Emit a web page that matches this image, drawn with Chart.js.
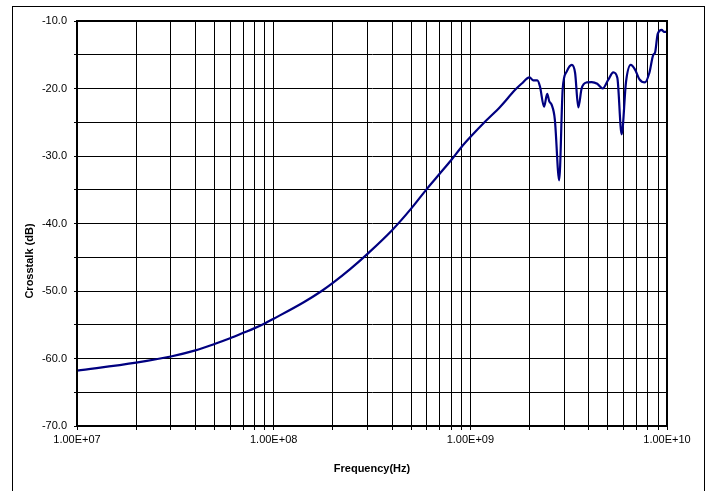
<!DOCTYPE html>
<html>
<head>
<meta charset="utf-8">
<script src="https://cdn.jsdelivr.net/npm/chart.js@4/dist/chart.umd.min.js"></script>
<style>
  body { margin: 0; background: #fff; }
  #wrap { width: 710px; height: 491px; position: relative; }
</style>
</head>
<body>
<div id="wrap"><canvas id="myChart"></canvas></div>
<script>
// frequency points (Hz)
const frequency = [
  1e7, 2e7, 3e7, 4e7, 5e7, 6e7, 7e7, 8e7, 9e7,
  1e8, 1.415e8, 1.754e8, 2e8, 2.44e8, 3e8, 4e8, 5e8, 6e8, 7e8, 8e8, 9e8,
  1e9, 1.19e9, 1.42e9, 1.69e9, 1.82e9, 2.0e9, 2.09e9, 2.19e9, 2.26e9,
  2.37e9, 2.46e9, 2.52e9, 2.59e9, 2.69e9, 2.83e9, 2.95e9, 3.09e9, 3.28e9,
  3.41e9, 3.54e9, 3.68e9, 3.91e9, 4.14e9, 4.42e9, 4.71e9, 5.03e9, 5.33e9,
  5.59e9, 5.88e9, 6.19e9, 6.54e9, 6.88e9, 7.23e9, 7.73e9, 8.13e9, 8.52e9,
  8.69e9, 8.97e9, 9.4e9, 9.65e9, 1e10
];
// crosstalk (dB)
const crosstalk = [
  -61.8, -60.6, -59.7, -58.8, -57.85, -57.0, -56.2, -55.5, -54.8,
  -54.1, -51.7, -50.0, -48.8, -46.8, -44.5, -41.0, -37.8, -34.9, -32.6, -30.6, -28.7,
  -27.2, -24.9, -22.7, -20.2, -19.3, -18.35, -18.8, -18.8, -19.7,
  -22.7, -20.8, -21.9, -22.4, -24.6, -33.6, -20.0, -17.5, -16.5,
  -17.7, -22.8, -20.0, -19.1, -19.05, -19.3, -20.0, -18.7, -17.6,
  -18.4, -26.8, -19.0, -16.5, -17.2, -18.6, -19.1, -17.7, -15.0,
  -14.7, -11.9, -11.3, -11.6, -11.6
];
// labelled decades on the x axis
const decades = [1e7, 1e8, 1e9, 1e10];
const yMin = -70, yMax = -10, yStep = 5;

const font = { family: "'Liberation Sans', Arial, sans-serif", size: 11 };

// every 1..9 multiple inside each decade gets a grid line
const xTickValues = [];
decades.forEach((d, i) => {
  if (i === decades.length - 1) { xTickValues.push(d); return; }
  for (let m = 1; m < 10; m++) xTickValues.push(d * m);
});

const framePlugin = {
  id: "frame",
  beforeDraw(chart) {
    const c = chart.ctx;
    c.save();
    c.fillStyle = "#fff";
    c.fillRect(0, 0, chart.width, chart.height);
    c.strokeStyle = "#000";
    c.lineWidth = 1;
    c.strokeRect(12.5, 6.5, 692, 600);
    c.restore();
  },
  afterDraw(chart) {
    const c = chart.ctx;
    const a = chart.chartArea;
    c.save();
    c.strokeStyle = "#000";
    c.lineWidth = 2;
    c.strokeRect(a.left, a.top, a.right - a.left, a.bottom - a.top);
    // y axis title, centred on the whole chart object
    c.fillStyle = "#000";
    c.font = "bold 11px 'Liberation Sans', Arial, sans-serif";
    c.textAlign = "center";
    c.textBaseline = "middle";
    c.translate(30, 261);
    c.rotate(-Math.PI / 2);
    c.fillText("Crosstalk (dB)", 0, 0);
    c.restore();
  }
};

const ctx = document.getElementById("myChart");
new Chart(ctx, {
  type: "line",
  data: {
    datasets: [
      {
        label: "Crosstalk",
        data: frequency.map((f, i) => ({ x: f, y: crosstalk[i] })),
        borderColor: "#000080",
        borderWidth: 2.2,
        pointRadius: 0,
        fill: false,
        cubicInterpolationMode: "monotone",
      },
    ],
  },
  options: {
    responsive: true,
    maintainAspectRatio: false,
    animation: false,
    layout: { padding: { top: 21, right: 43, left: 0, bottom: 0 } },
    plugins: { legend: { display: false }, tooltip: { enabled: false } },
    scales: {
      x: {
        type: "logarithmic",
        min: 1e7,
        max: 1e10,
        afterBuildTicks: (scale) => {
          scale.ticks = xTickValues.map((v) => ({ value: v }));
        },
        afterFit: (scale) => { scale.height = 65; },
        ticks: {
          autoSkip: false,
          maxRotation: 0,
          padding: 3,
          color: "#000",
          font: font,
          callback: (v) => (decades.includes(v) ? v.toExponential(2).toUpperCase().replace(/E\+(\d)$/, "E+0$1") : ""),
        },
        grid: { color: "#000", lineWidth: 1, tickLength: 4 },
        border: { color: "#000", width: 2 },
        title: {
          display: true,
          text: "Frequency(Hz)",
          color: "#000",
          font: { family: font.family, size: 11, weight: "bold" },
          padding: { top: 0, bottom: 15 },
        },
      },
      y: {
        min: yMin,
        max: yMax,
        afterFit: (scale) => { scale.width = 77; },
        ticks: {
          stepSize: yStep,
          padding: 7,
          color: "#000",
          font: font,
          callback: (v) => (v % 10 === 0 ? v.toFixed(1) : ""),
        },
        grid: { color: "#000", lineWidth: 1, tickLength: 3 },
        border: { color: "#000", width: 2 },
      },
    },
  },
  plugins: [framePlugin],
});
</script>
</body>
</html>
